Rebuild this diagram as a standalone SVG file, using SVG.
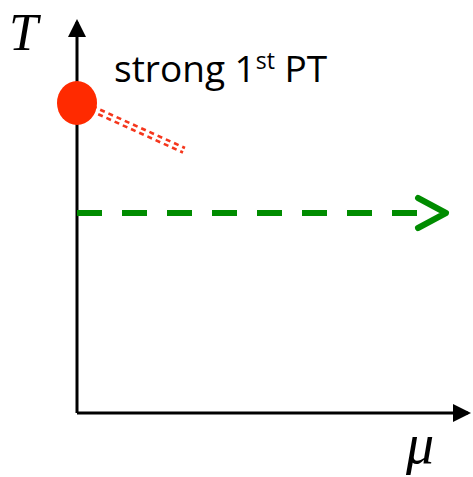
<svg xmlns="http://www.w3.org/2000/svg" width="473" height="477" viewBox="0 0 473 477">
<style>
.axis{stroke:#000;stroke-width:3;fill:none}
.lbl{font-family:"Liberation Serif","DejaVu Serif",serif;font-style:italic;fill:#000}
.txt{font-family:"Open Sans","Liberation Sans",sans-serif;fill:#000}
.red{stroke:#f5361c;stroke-width:2.6;stroke-dasharray:5 4;fill:none}
</style>
<defs>
<marker id="ah" markerWidth="6" markerHeight="6" refX="5" refY="3" orient="auto" markerUnits="strokeWidth"><path d="M0,0 L6,3 L0,6 Z" fill="#000"/></marker>
</defs>
<rect width="473" height="477" fill="#fff"/>
<g id="connectors">
<line class="axis" x1="77" y1="413" x2="77" y2="22" marker-end="url(#ah)"/>
<line class="axis" x1="77" y1="413" x2="468" y2="413" marker-end="url(#ah)"/>
<line class="red" x1="92" y1="106" x2="185" y2="148"/>
<line class="red" x1="90" y1="110.5" x2="183" y2="152.5"/>
<line stroke="#008c00" stroke-width="6" stroke-dasharray="25 20" x1="77" y1="213" x2="420" y2="213"/>
<polyline points="418,198 446,213 418,228" fill="none" stroke="#008c00" stroke-width="6" stroke-linecap="round" stroke-linejoin="round"/>
</g>
<g id="point">
<ellipse cx="77" cy="103" rx="20" ry="22" fill="#ff2a00"/>
</g>
<g id="labels">
<text class="lbl" x="9" y="50" font-size="52">T</text>
<text class="lbl" x="406" y="463" font-size="56">μ</text>
<text class="txt" x="114" y="82" font-size="37">strong 1<tspan font-size="23" dy="-13">st</tspan><tspan dy="13"> PT</tspan></text>
</g>
</svg>
